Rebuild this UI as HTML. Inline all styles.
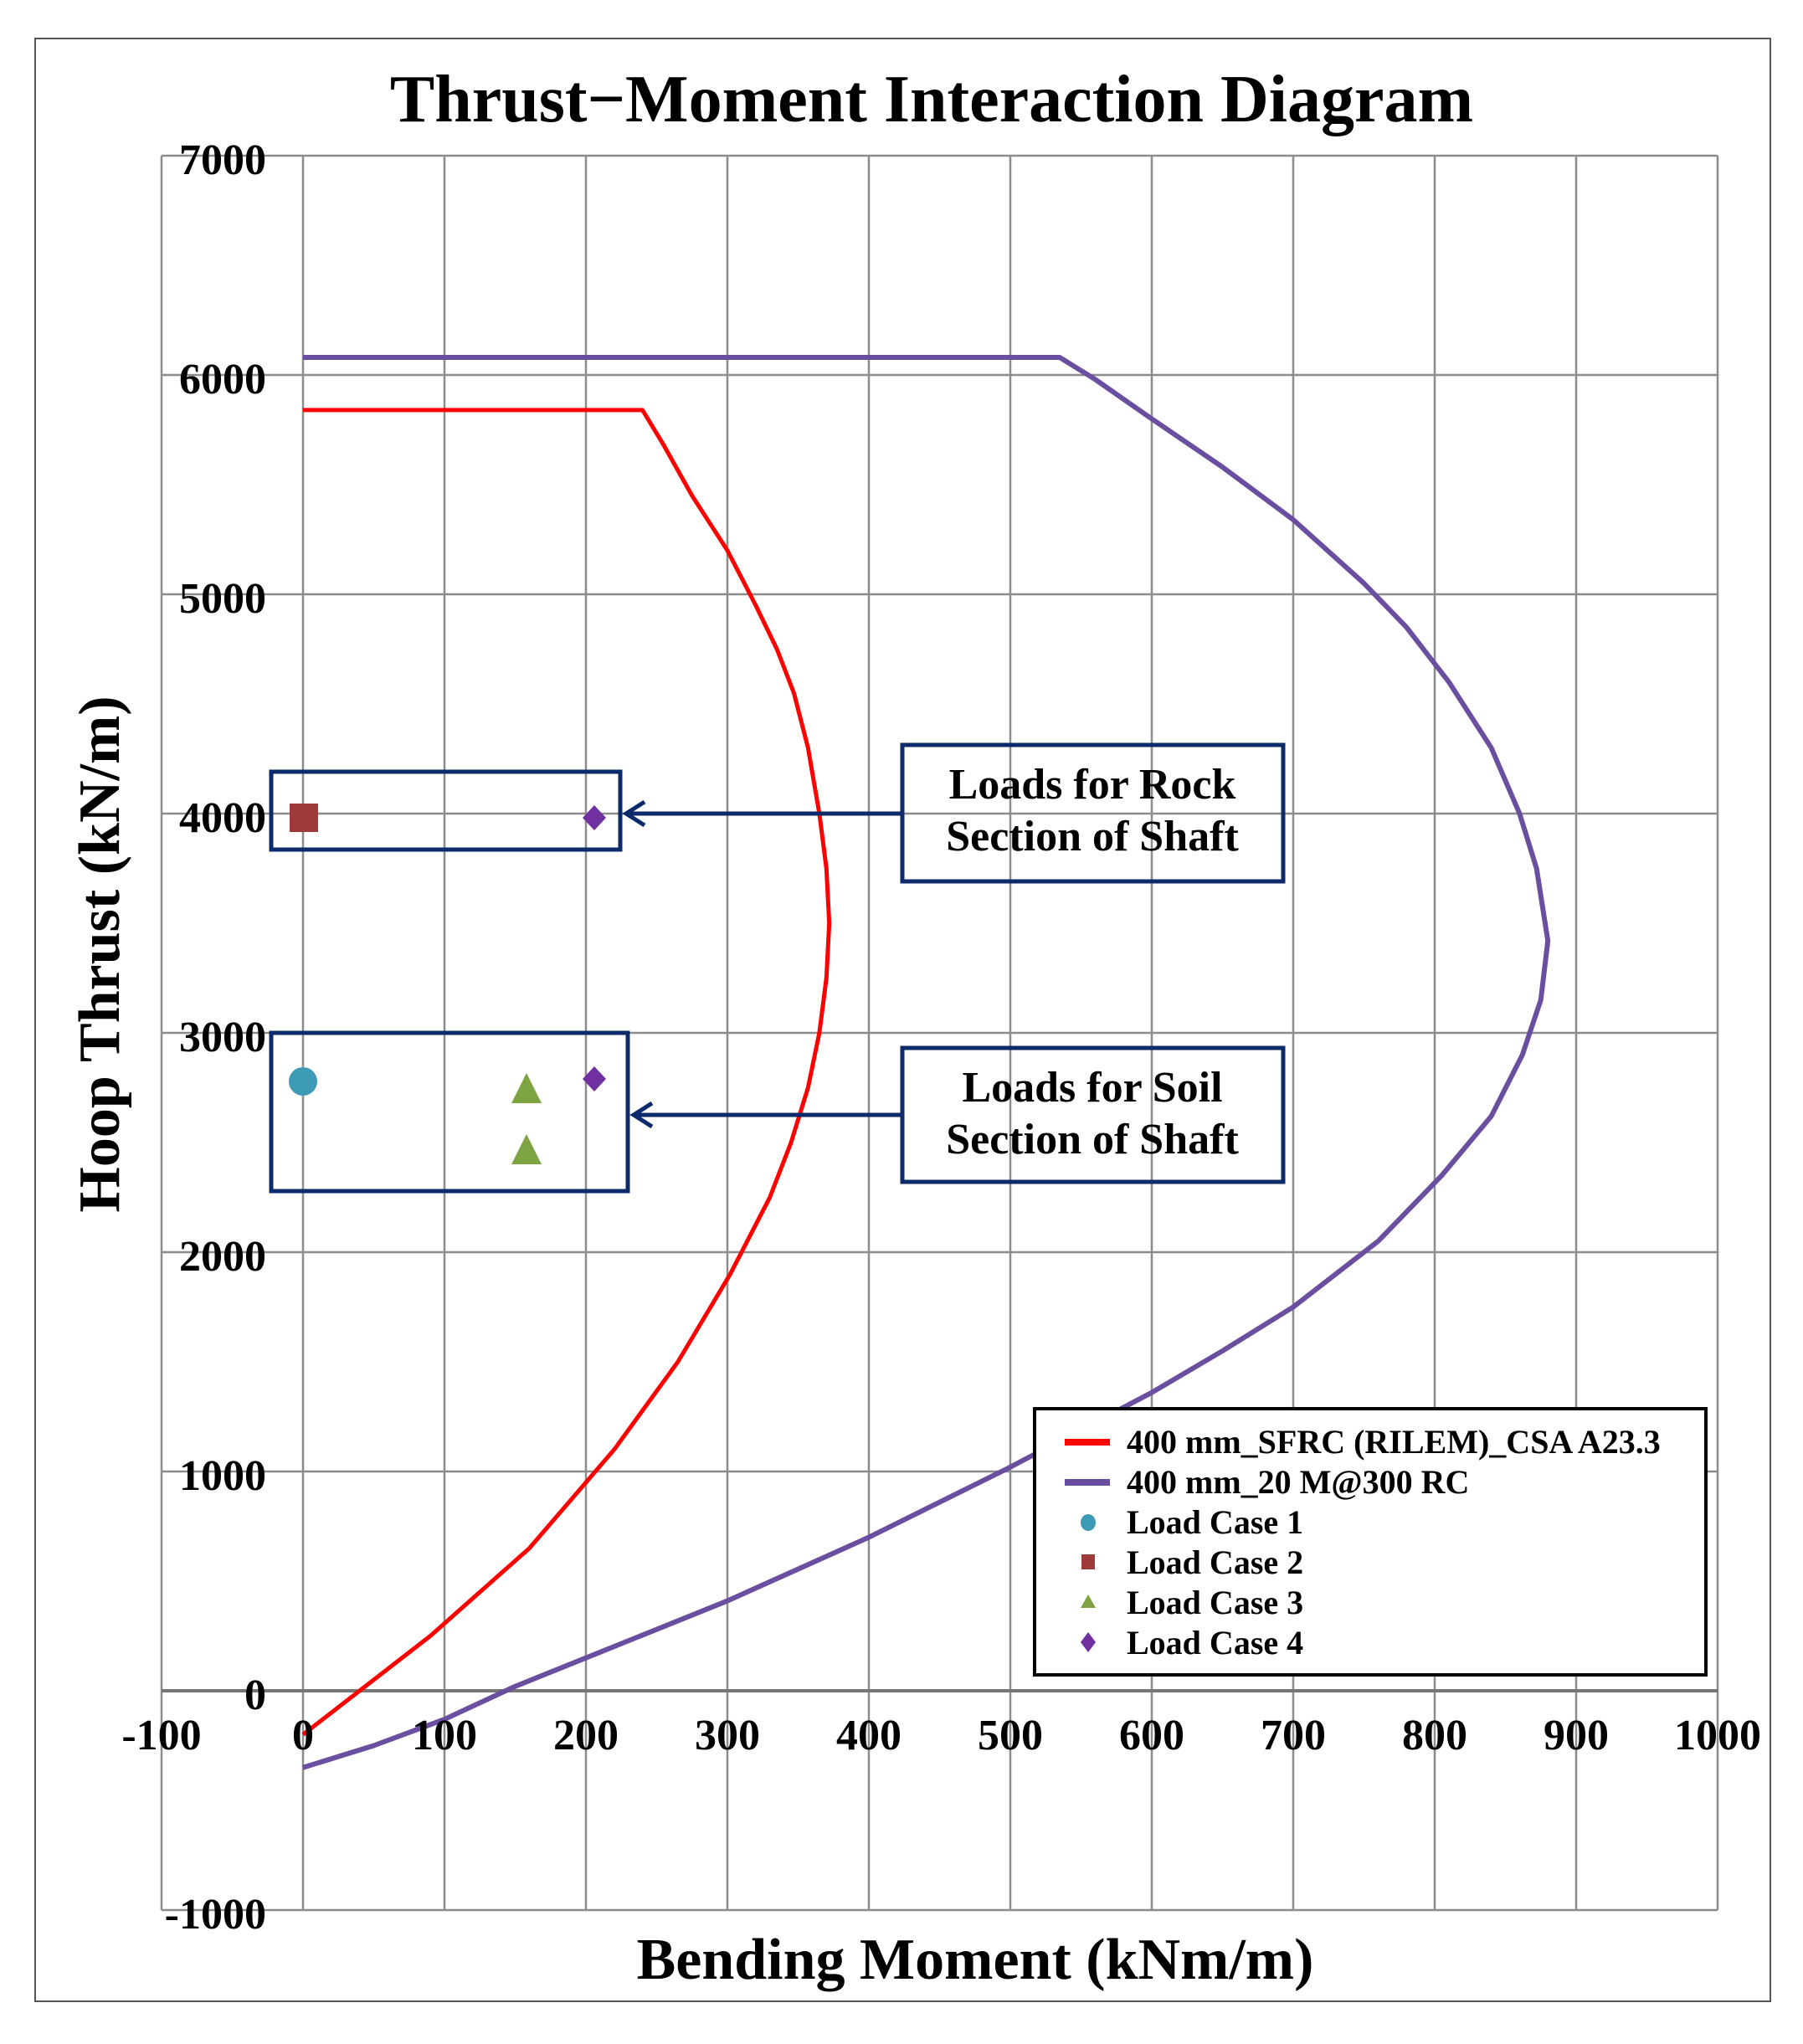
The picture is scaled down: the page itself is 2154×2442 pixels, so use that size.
<!DOCTYPE html>
<html><head><meta charset="utf-8"><style>
html,body{margin:0;padding:0;background:#fff;}
svg{display:block;font-family:"Liberation Serif",serif;}
</style></head><body>
<svg width="2154" height="2442" viewBox="0 0 2154 2442" xmlns="http://www.w3.org/2000/svg">
<rect x="0" y="0" width="2154" height="2442" fill="#fff"/>
<rect x="42" y="46" width="2073" height="2345" fill="none" stroke="#555" stroke-width="2"/>
<text x="1113" y="145" font-size="80" font-weight="bold" text-anchor="middle">Thrust−Moment Interaction Diagram</text>
<g transform="translate(362,2020) scale(1.69,-0.262)" fill="none" stroke="#8c8c8c" stroke-width="2.5">
<line x1="-100" y1="-1000" x2="-100" y2="7000" vector-effect="non-scaling-stroke"/>
<line x1="0" y1="-1000" x2="0" y2="7000" vector-effect="non-scaling-stroke"/>
<line x1="100" y1="-1000" x2="100" y2="7000" vector-effect="non-scaling-stroke"/>
<line x1="200" y1="-1000" x2="200" y2="7000" vector-effect="non-scaling-stroke"/>
<line x1="300" y1="-1000" x2="300" y2="7000" vector-effect="non-scaling-stroke"/>
<line x1="400" y1="-1000" x2="400" y2="7000" vector-effect="non-scaling-stroke"/>
<line x1="500" y1="-1000" x2="500" y2="7000" vector-effect="non-scaling-stroke"/>
<line x1="600" y1="-1000" x2="600" y2="7000" vector-effect="non-scaling-stroke"/>
<line x1="700" y1="-1000" x2="700" y2="7000" vector-effect="non-scaling-stroke"/>
<line x1="800" y1="-1000" x2="800" y2="7000" vector-effect="non-scaling-stroke"/>
<line x1="900" y1="-1000" x2="900" y2="7000" vector-effect="non-scaling-stroke"/>
<line x1="1000" y1="-1000" x2="1000" y2="7000" vector-effect="non-scaling-stroke"/>
<line x1="-100" y1="-1000" x2="1000" y2="-1000" vector-effect="non-scaling-stroke"/>
<line x1="-100" y1="0" x2="1000" y2="0" vector-effect="non-scaling-stroke" stroke="#777" stroke-width="4"/>
<line x1="-100" y1="1000" x2="1000" y2="1000" vector-effect="non-scaling-stroke"/>
<line x1="-100" y1="2000" x2="1000" y2="2000" vector-effect="non-scaling-stroke"/>
<line x1="-100" y1="3000" x2="1000" y2="3000" vector-effect="non-scaling-stroke"/>
<line x1="-100" y1="4000" x2="1000" y2="4000" vector-effect="non-scaling-stroke"/>
<line x1="-100" y1="5000" x2="1000" y2="5000" vector-effect="non-scaling-stroke"/>
<line x1="-100" y1="6000" x2="1000" y2="6000" vector-effect="non-scaling-stroke"/>
<line x1="-100" y1="7000" x2="1000" y2="7000" vector-effect="non-scaling-stroke"/>
<polyline vector-effect="non-scaling-stroke" stroke="#ff0000" stroke-width="5" stroke-linejoin="round" points="0,5840 240,5840 255,5680 275,5450 300,5200 320,4950 335,4750 347,4550 357,4300 365,4000 370,3750 372,3500 370,3250 365,3000 357,2750 345,2500 330,2250 302,1900 265,1500 220,1100 160,650 90,250 0,-200"/>
<polyline vector-effect="non-scaling-stroke" stroke="#6a4fa0" stroke-width="6" stroke-linejoin="round" points="0,6080 535,6080 560,5980 600,5800 650,5580 700,5340 750,5050 780,4850 810,4600 840,4300 860,4000 872,3750 880,3420 875,3150 862,2900 840,2620 805,2350 760,2050 700,1750 650,1550 600,1360 500,1020 400,700 300,410 200,150 150,20 100,-130 50,-250 0,-350"/>
</g>
<g font-size="52" font-weight="bold" text-anchor="end">
<text x="318" y="208">7000</text><text x="318" y="470">6000</text><text x="318" y="732">5000</text>
<text x="318" y="994">4000</text><text x="318" y="1256">3000</text><text x="318" y="1518">2000</text>
<text x="318" y="1780">1000</text><text x="318" y="2042">0</text><text x="318" y="2304">-1000</text>
</g>
<g font-size="52" font-weight="bold" text-anchor="middle">
<text x="193" y="2090">-100</text><text x="362" y="2090">0</text><text x="531" y="2090">100</text>
<text x="700" y="2090">200</text><text x="869" y="2090">300</text><text x="1038" y="2090">400</text>
<text x="1207" y="2090">500</text><text x="1376" y="2090">600</text><text x="1545" y="2090">700</text>
<text x="1714" y="2090">800</text><text x="1883" y="2090">900</text><text x="2052" y="2090">1000</text>
</g>
<text x="1165" y="2364" font-size="70" font-weight="bold" text-anchor="middle">Bending Moment (kNm/m)</text>
<text transform="translate(142,1140) rotate(-90)" font-size="70" font-weight="bold" text-anchor="middle">Hoop Thrust (kN/m)</text>
<g fill="none" stroke="#0d2a6b" stroke-width="5">
<rect x="324" y="922" width="417" height="93"/>
<rect x="324" y="1234" width="426" height="189"/>
<rect x="1078" y="890" width="455" height="163"/>
<rect x="1078" y="1252" width="455" height="160"/>
<line x1="1078" y1="972" x2="748" y2="972"/>
<polyline points="770,958 748,972 770,986"/>
<line x1="1078" y1="1332" x2="757" y2="1332"/>
<polyline points="779,1318 757,1332 779,1346"/>
</g>
<g font-size="52" font-weight="bold" text-anchor="middle">
<text x="1305" y="954">Loads for Rock</text><text x="1305" y="1016">Section of Shaft</text>
<text x="1305" y="1316">Loads for Soil</text><text x="1305" y="1378">Section of Shaft</text>
</g>
<circle cx="362" cy="1292" r="17" fill="#3d9bb5"/>
<rect x="346" y="960" width="34" height="34" fill="#9e3a3a"/>
<polygon points="710,962 724,977 710,992 696,977" fill="#7030a0"/>
<polygon points="710,1274 724,1289 710,1304 696,1289" fill="#7030a0"/>
<polygon points="629,1282 647,1318 611,1318" fill="#7ea342"/>
<polygon points="629,1355 647,1391 611,1391" fill="#7ea342"/>
<rect x="1236" y="1683" width="802" height="318" fill="#fff" stroke="#000" stroke-width="4"/>
<line x1="1272" y1="1723" x2="1326" y2="1723" stroke="#ff0000" stroke-width="8"/>
<line x1="1272" y1="1771" x2="1326" y2="1771" stroke="#6a4fa0" stroke-width="8"/>
<ellipse cx="1300" cy="1819" rx="9" ry="10" fill="#3d9bb5"/>
<rect x="1292" y="1857" width="16" height="18" fill="#9e3a3a"/>
<polygon points="1300,1905 1309,1921 1291,1921" fill="#7ea342"/>
<polygon points="1300,1950 1309,1962 1300,1974 1291,1962" fill="#7030a0"/>
<g font-size="40" font-weight="bold">
<text x="1346" y="1736">400 mm_SFRC (RILEM)_CSA A23.3</text>
<text x="1346" y="1784">400 mm_20 M@300 RC</text>
<text x="1346" y="1832">Load Case 1</text>
<text x="1346" y="1880">Load Case 2</text>
<text x="1346" y="1928">Load Case 3</text>
<text x="1346" y="1976">Load Case 4</text>
</g>
</svg>
</body></html>
